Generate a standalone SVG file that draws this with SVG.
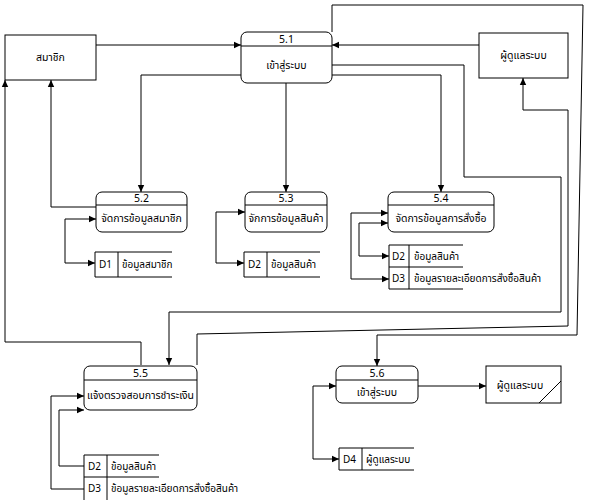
<svg xmlns="http://www.w3.org/2000/svg" width="590" height="500" viewBox="0 0 590 500">
<defs>
<marker id="ar" markerWidth="8" markerHeight="8" refX="7" refY="4" orient="auto" markerUnits="userSpaceOnUse">
<path d="M0,0.8 L7,4 L0,7.2 Z" fill="#000"/>
</marker>
<marker id="ar2" markerWidth="8" markerHeight="8" refX="7" refY="4" orient="auto-start-reverse" markerUnits="userSpaceOnUse">
<path d="M0,0.8 L7,4 L0,7.2 Z" fill="#000"/>
</marker>
<style>
.b{fill:#fff;stroke:#000;stroke-width:1}
.l{fill:none;stroke:#000;stroke-width:1}
.c{fill:none;stroke:#000;stroke-width:1;marker-end:url(#ar)}
.cb{fill:none;stroke:#000;stroke-width:1;marker-end:url(#ar);marker-start:url(#ar2)}
text{font-family:"Noto Sans Thai","Noto Sans","DejaVu Sans",sans-serif;font-size:10px;fill:#000}
.t{text-anchor:middle;font-size:10.5px}
</style>
</defs>
<rect width="590" height="500" fill="#fff"/>
<g id="connectors">
<path class="c" d="M96,45 H241"/>
<path class="c" d="M479,45 H332"/>
<path class="c" d="M241,75 H141 V192"/>
<path class="c" d="M286,83 V192"/>
<path class="c" d="M332,75 H441 V192"/>
<path class="c" d="M332,65 H464 V177 H561 V312 H169 V365"/>
<path class="c" d="M197,365 V334 L568,326 V110 H523 V78"/>
<path class="c" d="M332,32 V5 H583 L577,335 H377 V366"/>
<path class="c" d="M96,207 H51 V80"/>
<path class="c" d="M141,365 V342 H5 V80"/>
<path class="cb" d="M96,219 H65 V263 H95"/>
<path class="cb" d="M245,212 H216 V263 H244"/>
<path class="cb" d="M388,213 H351 V279 H389"/>
<path class="cb" d="M388,223 H359 V256 H389"/>
<path class="c" d="M84,489 H51 V396 H84"/>
<path class="c" d="M84,466 H59 V410 H84"/>
<path class="cb" d="M336,386 H313 V459 H339"/>
<path class="c" d="M418,386 H486"/>
</g>
<g id="member">
<rect class="b" x="5" y="35" width="91" height="45"/>
<text class="t" x="50.5" y="61">สมาชิก</text>
</g>
<g id="p51">
<rect class="b" x="241" y="32" width="91" height="51" rx="6"/>
<line class="l" x1="241" y1="46" x2="332" y2="46"/>
<text class="t" x="286.5" y="43">5.1</text>
<text class="t" x="286.5" y="69">เข้าสู่ระบบ</text>
</g>
<g id="admin1">
<rect class="b" x="479" y="33" width="89" height="45"/>
<text class="t" x="523.5" y="59">ผู้ดูแลระบบ</text>
</g>
<g id="p52">
<rect class="b" x="96" y="192" width="91" height="40" rx="6"/>
<line class="l" x1="96" y1="205" x2="187" y2="205"/>
<text class="t" x="141.5" y="202">5.2</text>
<text class="t" x="141.5" y="222">จัดการข้อมูลสมาชิก</text>
</g>
<g id="p53">
<rect class="b" x="245" y="192" width="82" height="40" rx="6"/>
<line class="l" x1="245" y1="205" x2="327" y2="205"/>
<text class="t" x="286" y="202">5.3</text>
<text class="t" x="286" y="222">จักการข้อมูลสินค้า</text>
</g>
<g id="p54">
<rect class="b" x="388" y="192" width="106" height="40" rx="6"/>
<line class="l" x1="388" y1="205" x2="494" y2="205"/>
<text class="t" x="441" y="202">5.4</text>
<text class="t" x="441" y="222">จัดการข้อมูลการสั่งซื้อ</text>
</g>
<g id="d1">
<path class="l" d="M172,252 H95 V277 H172 M118,252 V277"/>
<text x="99" y="268">D1</text>
<text x="122" y="268">ข้อมูลสมาชิก</text>
</g>
<g id="d2a">
<path class="l" d="M320,252 H244 V277 H320 M267,252 V277"/>
<text x="248" y="268">D2</text>
<text x="271" y="268">ข้อมูลสินค้า</text>
</g>
<g id="d2d3">
<path class="l" d="M463,245 H389 V289 M389,267 H463 M389,289 H463 M409,245 V289"/>
<text x="392" y="260">D2</text>
<text x="414" y="260">ข้อมูลสินค้า</text>
<text x="392" y="282">D3</text>
<text x="414" y="282">ข้อมูลรายละเอียดการสั่งซื้อสินค้า</text>
</g>
<g id="p55">
<rect class="b" x="84" y="366" width="113" height="44" rx="6"/>
<line class="l" x1="84" y1="380" x2="197" y2="380"/>
<text class="t" x="140.5" y="377">5.5</text>
<text class="t" x="140.5" y="399">แจ้งตรวจสอบการชำระเงิน</text>
</g>
<g id="d2d3b">
<path class="l" d="M159,455 H84 V500 M84,477 H159 M107,455 V500"/>
<text x="88" y="470">D2</text>
<text x="111" y="470">ข้อมูลสินค้า</text>
<text x="88" y="492">D3</text>
<text x="111" y="492">ข้อมูลรายละเอียดการสั่งซื้อสินค้า</text>
</g>
<g id="p56">
<rect class="b" x="336" y="366" width="82" height="37" rx="6"/>
<line class="l" x1="336" y1="380" x2="418" y2="380"/>
<text class="t" x="377" y="377">5.6</text>
<text class="t" x="377" y="396">เข้าสู่ระบบ</text>
</g>
<g id="admin2">
<rect class="b" x="486" y="366" width="75" height="37"/>
<line class="l" x1="539" y1="403" x2="561" y2="381"/>
<text class="t" x="520" y="389">ผู้ดูแลระบบ</text>
</g>
<g id="d4">
<path class="l" d="M414,448 H339 V470 H414 M362,448 V470"/>
<text x="343" y="463">D4</text>
<text x="366" y="463">ผู้ดูแลระบบ</text>
</g>
</svg>
